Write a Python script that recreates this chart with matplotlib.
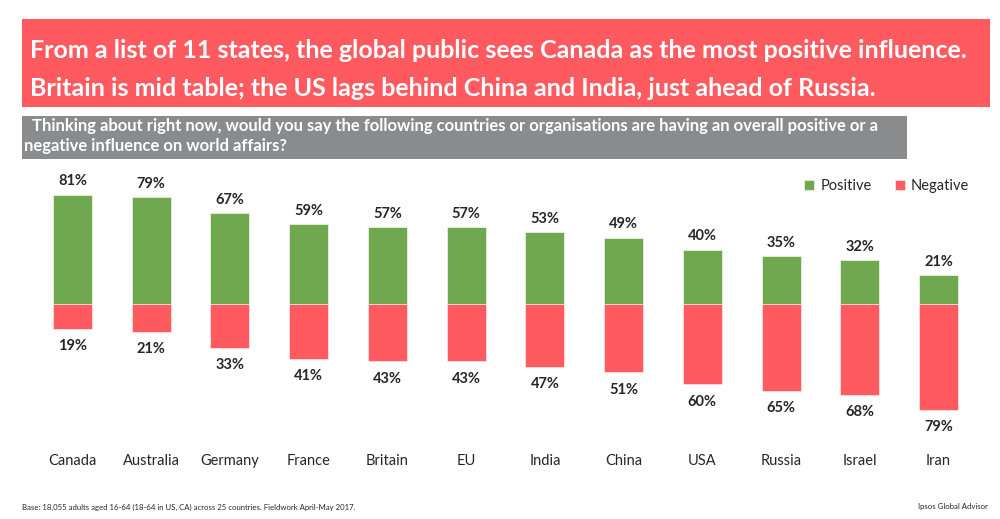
import matplotlib
matplotlib.use("Agg")
import matplotlib.pyplot as plt
from matplotlib.patches import Rectangle
import numpy as np

categories = ["Canada", "Australia", "Germany", "France", "Britain", "EU",
              "India", "China", "USA", "Russia", "Israel", "Iran"]
positive = [81, 79, 67, 59, 57, 57, 53, 49, 40, 35, 32, 21]
negative = [19, 21, 33, 41, 43, 43, 47, 51, 60, 65, 68, 79]

GREEN = "#70A84F"
RED = "#FF5A5F"
GRAY = "#898B8D"
TXT = "#262626"

plt.rcParams['font.family'] = ['Lato', 'DejaVu Sans']

W, H = 1000, 519
fig = plt.figure(figsize=(W / 100, H / 100), dpi=100)

def fx(px):
    return px / W

def fy(py):
    return 1 - py / H

# Header boxes
fig.add_artist(Rectangle((fx(22), fy(107)), fx(990 - 22), 88 / H,
                         transform=fig.transFigure, facecolor=RED, edgecolor="none"))
fig.text(fx(30), fy(50), "From a list of 11 states, the global public sees Canada as the most positive influence.",
         color="white", fontsize=18, fontweight="bold", va="center", ha="left")
fig.text(fx(30), fy(88), "Britain is mid table; the US lags behind China and India, just ahead of Russia.",
         color="white", fontsize=18, fontweight="bold", va="center", ha="left")

fig.add_artist(Rectangle((fx(22), fy(159)), fx(907 - 22), 43 / H,
                         transform=fig.transFigure, facecolor=GRAY, edgecolor="none"))
fig.text(fx(32), fy(126), "Thinking about right now, would you say the following countries or organisations are having an overall positive or a",
         color="white", fontsize=12, fontweight="bold", va="center", ha="left")
fig.text(fx(24), fy(146), "negative influence on world affairs?",
         color="white", fontsize=12, fontweight="bold", va="center", ha="left")

# Axes: baseline at y=303.5 px, 1.345 px per %
top_px, bot_px = 170, 440
base_px = 303.5
scale = 1.345
ylim_top = (base_px - top_px) / scale
ylim_bot = -(bot_px - base_px) / scale
left_px = 33.15
width_px = 12 * 78.73
ax = fig.add_axes([fx(left_px), fy(bot_px), width_px / W, (bot_px - top_px) / H])
ax.set_xlim(-0.5, 11.5)
ax.set_ylim(ylim_bot, ylim_top)
ax.axis("off")

x = np.arange(len(categories))
bw = 39 / 78.73
ax.bar(x, positive, width=bw, color=GREEN, edgecolor="#e8f0e0", linewidth=0.6, label="Positive")
ax.bar(x, [-v for v in negative], width=bw, color=RED, edgecolor="#ffe0e0", linewidth=0.6, label="Negative")

for xi, p, n in zip(x, positive, negative):
    ax.annotate(f"{p}%", (xi, p), xytext=(0, 4.5), textcoords="offset points",
                ha="center", va="bottom", fontsize=10.5, fontweight="bold", color=TXT)
    ax.annotate(f"{n}%", (xi, -n), xytext=(0, -7.5), textcoords="offset points",
                ha="center", va="top", fontsize=10.5, fontweight="bold", color=TXT)

for xi, c in zip(x, categories):
    ax.annotate(c, (xi, ylim_bot), xytext=(0, -15), textcoords="offset points",
                ha="center", va="center", fontsize=10.5, color=TXT, annotation_clip=False)

leg = ax.legend(loc="upper right", bbox_to_anchor=(1.0, 1.0), ncol=2, frameon=False,
                fontsize=10.5, handlelength=0.7, handleheight=0.7, handletextpad=0.4,
                columnspacing=1.6, borderaxespad=0.2)
for t in leg.get_texts():
    t.set_color(TXT)

fig.text(fx(22), fy(507), "Base: 18,055 adults aged 16-64 (18-64 in US, CA) across 25 countries. Fieldwork April-May 2017.",
         fontsize=5.6, color=TXT, va="center", ha="left")
fig.text(fx(988), fy(507), "Ipsos Global Advisor", fontsize=5.6, color=TXT, va="center", ha="right")

fig.savefig("out.png", dpi=100, facecolor="white")
